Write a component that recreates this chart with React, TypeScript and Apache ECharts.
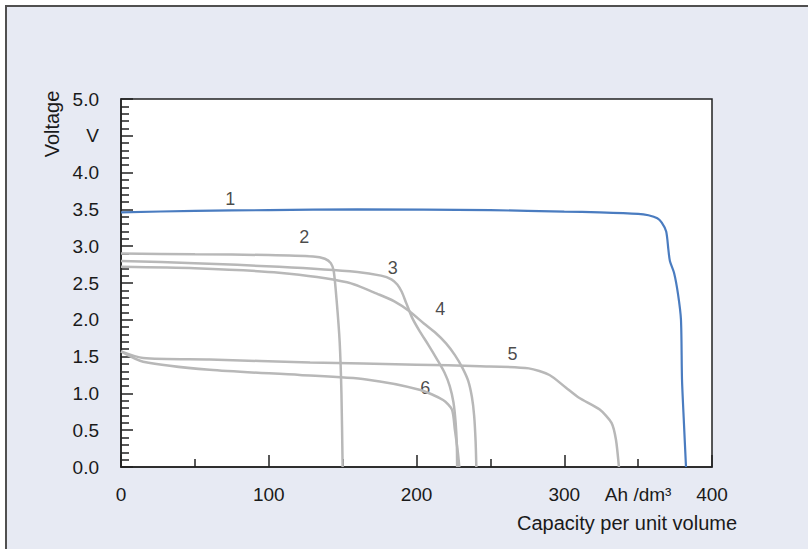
import React, { useEffect, useRef } from "react";
import * as echarts from "echarts";

// Capacity (Ah/dm³) vs Voltage (V)
const curve1: [number, number][] = [
  [0, 3.46], [50, 3.48], [100, 3.49], [160, 3.5], [250, 3.49], [300, 3.47], [324, 3.46],
  [350, 3.44], [357, 3.42], [363, 3.38], [366, 3.32], [369, 3.2], [370.5, 2.95], [371.5, 2.8],
  [374.3, 2.64], [377, 2.35], [379, 2.0], [379.7, 1.19], [381, 0.6], [382.4, 0],
];
const curve2: [number, number][] = [
  [0, 2.9], [50, 2.89], [100, 2.88], [130, 2.86], [138, 2.83], [142, 2.77], [144, 2.66],
  [146, 2.25], [148, 1.7], [149.2, 1.0], [150, 0],
];
const curve3: [number, number][] = [
  [0, 2.8], [50, 2.77], [107, 2.72], [160, 2.65], [176, 2.6], [183, 2.55], [187, 2.48],
  [190, 2.38], [193, 2.23], [197, 2.03], [202, 1.85], [208, 1.66], [214, 1.46], [219, 1.28],
  [222.5, 1.1], [225, 0.88], [226.5, 0.6], [227.3, 0.3], [227.5, 0],
];
const curve4: [number, number][] = [
  [0, 2.72], [50, 2.7], [107, 2.64], [153, 2.51], [175, 2.34], [185, 2.25], [195, 2.12],
  [205, 1.95], [213, 1.82], [220, 1.68], [226, 1.52], [231, 1.35], [235, 1.17], [237.5, 0.95],
  [239, 0.7], [240, 0.35], [240.5, 0],
];
const curve5: [number, number][] = [
  [0, 1.57], [15, 1.48], [60, 1.46], [128, 1.42], [200, 1.39], [243, 1.37], [276, 1.34],
  [290, 1.25], [301, 1.08], [310, 0.94], [324, 0.78], [332, 0.6], [335, 0.37], [337, 0],
];
const curve6: [number, number][] = [
  [0, 1.57], [15, 1.43], [60, 1.32], [121, 1.25], [166, 1.19], [202, 1.05], [218, 0.91],
  [224, 0.78], [226, 0.5], [228, 0.2], [229, 0],
];

const curveLabels = ["1", "2", "3", "4", "5", "6"];
const curveLabelX = [74, 124, 184, 216, 265, 206];
const curveLabelY = [3.64, 3.12, 2.71, 2.14, 1.53, 1.08];

const xTicks = [0, 100, 200, 300, 400];
const unitLabel = "Ah /dm³";
const unitAt = 350;
const yUnitLabel = "V";
const yUnitAt = 4.5;
const xTitle = "Capacity per unit volume";
const yTitle = "Voltage";

export default function App() {
  const ref = useRef<HTMLDivElement>(null);
  useEffect(() => {
    document.body.style.margin = "0";
    if (!ref.current) return;
    const chart = echarts.init(ref.current, undefined, { renderer: "svg" });
    const font = "'Liberation Sans', Arial, sans-serif";
    const gray = "#b8b8b8";
    const blue = "#4a7cc0";
    const grayCurves = [curve2, curve3, curve4, curve5, curve6];
    chart.setOption({
      animation: false,
      backgroundColor: "#ffffff",
      textStyle: { fontFamily: font },
      graphic: [
        {
          type: "rect",
          z: -100,
          silent: true,
          shape: { x: 6, y: 6, width: 830, height: 570 },
          style: { fill: "#e7eaf3", stroke: "#505050", lineWidth: 2 },
        },
        {
          type: "text",
          x: 52,
          y: 124,
          rotation: Math.PI / 2,
          style: {
            text: yTitle,
            fill: "#1a1a1a",
            font: `20px ${font}`,
            align: "center",
            verticalAlign: "middle",
          },
        },
        {
          type: "text",
          x: 627,
          y: 523,
          style: {
            text: xTitle,
            fill: "#1a1a1a",
            font: `20px ${font}`,
            align: "center",
            verticalAlign: "middle",
          },
        },
      ],
      grid: {
        left: 121,
        right: 96,
        top: 99,
        bottom: 82,
        show: true,
        backgroundColor: "#ffffff",
        borderColor: "#222",
        borderWidth: 1.5,
      },
      xAxis: [
        {
          type: "value",
          min: 0,
          max: 400,
          interval: 100,
          axisLine: { show: true, lineStyle: { color: "#222", width: 1.5 } },
          axisTick: { show: true, inside: true, length: 12, lineStyle: { color: "#222", width: 1.5 } },
          minorTick: { show: true, splitNumber: 2, length: 8, lineStyle: { color: "#222", width: 1.5 } },
          splitLine: { show: false },
          axisLabel: {
            margin: 18,
            fontSize: 19,
            color: "#1a1a1a",
            fontFamily: font,
            formatter: (v: number) => (xTicks.includes(v) ? String(v) : ""),
          },
        },
        {
          type: "value",
          position: "bottom",
          offset: 0,
          min: 0,
          max: 400,
          interval: 50,
          axisLine: { show: false },
          axisTick: { show: false },
          splitLine: { show: false },
          axisLabel: {
            margin: 18,
            fontSize: 19,
            color: "#1a1a1a",
            fontFamily: font,
            formatter: (v: number) => (v === unitAt ? unitLabel : ""),
          },
        },
      ],
      yAxis: {
        type: "value",
        min: 0,
        max: 5,
        interval: 0.5,
        axisLine: { show: true, lineStyle: { color: "#222", width: 1.5 } },
        axisTick: { show: true, inside: true, length: 12, lineStyle: { color: "#222", width: 1.5 } },
        minorTick: { show: true, splitNumber: 5, length: 8, lineStyle: { color: "#222", width: 1.5 } },
        splitLine: { show: false },
        axisLabel: {
          margin: 22,
          fontSize: 19,
          color: "#1a1a1a",
          fontFamily: font,
          formatter: (v: number) => (Math.abs(v - yUnitAt) < 1e-6 ? yUnitLabel : v.toFixed(1)),
        },
      },
      series: [
        ...grayCurves.map((d) => ({
          type: "line",
          data: d,
          showSymbol: false,
          smooth: 0.25,
          lineStyle: { color: gray, width: 2.5 },
          silent: true,
        })),
        {
          type: "line",
          data: curve1,
          showSymbol: false,
          smooth: 0.25,
          lineStyle: { color: blue, width: 2.2 },
          silent: true,
        },
        {
          type: "scatter",
          symbolSize: 0,
          silent: true,
          data: curveLabels.map((n, i) => ({ name: n, value: [curveLabelX[i], curveLabelY[i]] })),
          label: {
            show: true,
            position: "inside",
            formatter: (p: any) => p.name,
            fontSize: 18,
            color: "#1a1a1a",
            fontFamily: font,
          },
        },
      ],
    });
    return () => chart.dispose();
  }, []);
  return <div ref={ref} style={{ width: 808, height: 549 }} />;
}
